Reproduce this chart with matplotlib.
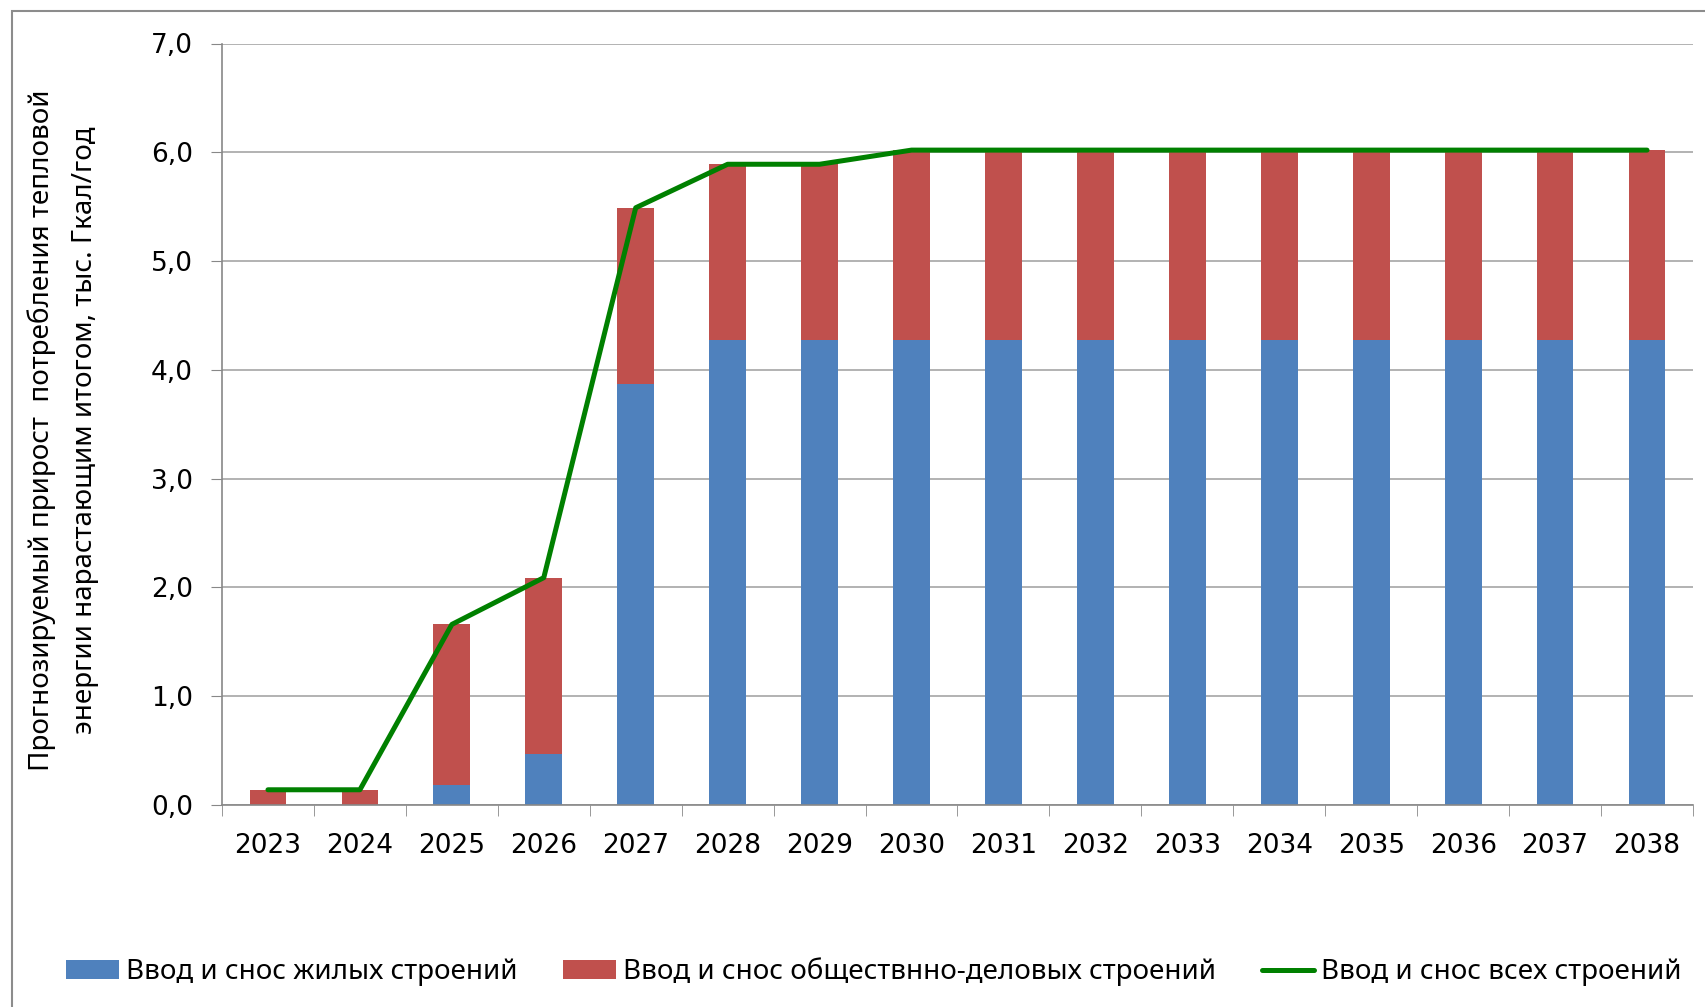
import matplotlib
matplotlib.use("Agg")
import matplotlib.pyplot as plt
from matplotlib.patches import Rectangle
import numpy as np

years = [str(y) for y in range(2023, 2039)]
# жилые строения
zhilye = [0.0, 0.0, 0.18, 0.47, 3.87, 4.27, 4.27, 4.27, 4.27, 4.27, 4.27, 4.27, 4.27, 4.27, 4.27, 4.27]
# общественно-деловые строения
obshch = [0.14, 0.14, 1.48, 1.62, 1.62, 1.62, 1.62, 1.75, 1.75, 1.75, 1.75, 1.75, 1.75, 1.75, 1.75, 1.75]
# все строения
vse = [0.14, 0.14, 1.66, 2.09, 5.49, 5.89, 5.89, 6.02, 6.02, 6.02, 6.02, 6.02, 6.02, 6.02, 6.02, 6.02]

labels = ["Ввод и снос жилых строений",
          "Ввод и снос обществнно-деловых строений",
          "Ввод и снос всех строений"]

narrow = ["Noto Sans", "DejaVu Sans"]

fig = plt.figure(figsize=(17.06, 10.07), dpi=100)
ax = fig.add_axes([222 / 1706, 202 / 1007, (1693 - 222) / 1706, (805 - 43.5) / 1007])

x = np.arange(len(years))
b1 = ax.bar(x, zhilye, width=0.4, color="#4F81BD", zorder=2)
b2 = ax.bar(x, obshch, width=0.4, bottom=zhilye, color="#C0504D", zorder=2)
l1, = ax.plot(x, vse, color="#008000", lw=3.6, solid_capstyle="round", zorder=3)

ax.set_ylim(0, 7)
ax.set_xlim(-0.5, len(years) - 0.5)
ax.set_yticks(np.arange(0, 8, 1))
ax.set_yticklabels([f"{v:.1f}".replace(".", ",") for v in range(0, 8)])
ax.set_xticks(x)
ax.set_xticklabels(years)
ax.set_xticks(np.arange(-0.5, len(years), 1), minor=True)
ax.tick_params(axis="x", which="major", length=0, pad=20, labelsize=19)
ax.tick_params(axis="x", which="minor", length=8, color="#888888", direction="out")
ax.tick_params(axis="y", length=8, color="#888888", pad=13, labelsize=19)
ax.yaxis.grid(True, color="#a6a6a6", lw=1.2, zorder=0)
ax.set_axisbelow(True)
for s in ["top", "right"]:
    ax.spines[s].set_visible(False)
ax.spines["left"].set_color("#888888")
ax.spines["bottom"].set_color("#888888")
ax.spines["left"].set_linewidth(1.2)
ax.spines["bottom"].set_linewidth(1.2)

fig.text(63 / 1706, 1 - 430 / 1007,
         "Прогнозируемый прирост  потребления тепловой\nэнергии нарастающим итогом, тыс. Гкал/год",
         rotation=90, ha="center", va="center", fontsize=20, family=narrow,
         fontweight="semibold", linespacing=1.7)

fig.legend([b1, b2, l1], labels, loc="center", bbox_to_anchor=(874 / 1706, 1 - 972 / 1007),
           ncol=3, frameon=False,
           prop={"family": narrow, "size": 20},
           handlelength=1.9, handletextpad=0.25, columnspacing=1.65)

fig.patches.append(Rectangle((12 / 1706, -0.1), 1.2, 1 - 11 / 1007 + 0.1, transform=fig.transFigure,
                             fill=False, ec="#8c8c8c", lw=1.5))

fig.savefig("out.png", dpi=100)
